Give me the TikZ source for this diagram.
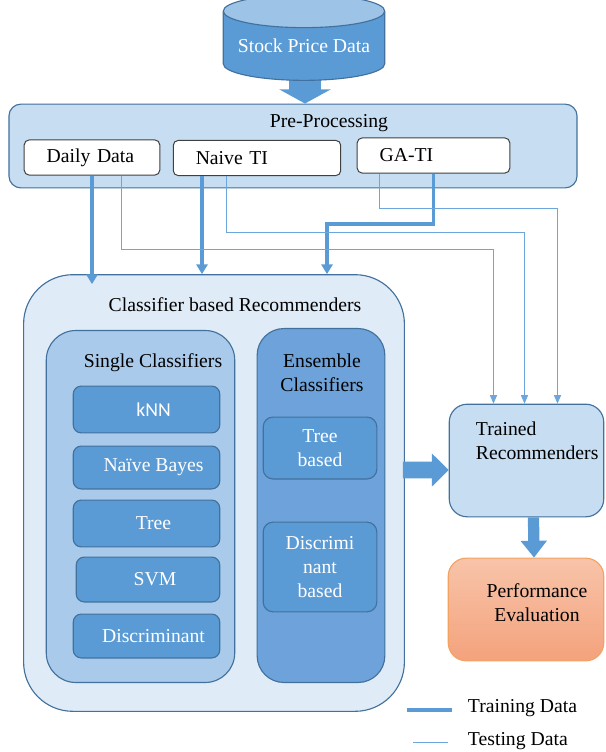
\documentclass[tikz,border=0pt]{standalone}
\usepackage{fontspec}
\setmainfont{Liberation Serif}
\newfontfamily\calibrifont{Carlito}
\usetikzlibrary{shapes.geometric,arrows.meta,calc}
\definecolor{bdr}{HTML}{41719C}
\definecolor{mblue}{HTML}{5B9BD5}
\definecolor{tblue}{HTML}{6CA6DC}
\definecolor{cyltop}{HTML}{9DC3E6}
\definecolor{ppfill}{HTML}{C7DDF1}
\definecolor{cbrfill}{HTML}{DFEBF7}
\definecolor{scfill}{HTML}{A9CAEA}
\definecolor{ecfill}{HTML}{6DA3DA}
\definecolor{petop}{HTML}{F8C4A9}
\definecolor{pebot}{HTML}{F4A27C}
\definecolor{peborder}{HTML}{F4A261}
\tikzset{
  panel/.style={draw=bdr, line width=0.8pt, rounded corners=#1, inner sep=0pt},
  tibox/.style={draw=black!75, fill=white, line width=0.7pt, rounded corners=3.5pt,
    inner xsep=16pt, inner ysep=0pt, minimum height=25pt, align=left},
  clsbox/.style={panel=5.7pt, fill=mblue, text=white, minimum width=104.2pt,
    execute at begin node=\hspace*{10pt}},
  trainline/.style={draw=mblue, line width=2.8pt, -{Triangle[width=8pt,length=7pt]}},
  testline/.style={draw=tblue, line width=0.6pt, -{Triangle[width=5pt,length=6pt]}},
  blockarr/.style={draw=mblue}
}
\begin{document}
\begin{tikzpicture}[x=0.025cm, y=-0.025cm, font=\fontsize{14}{17}\selectfont]
\useasboundingbox (0,0) rectangle (606,752);

% pre-processing
\node[panel=8.5pt, fill=ppfill, minimum width=404pt, minimum height=59.6pt] (PP) at (293,146) {};
\node (PPt) at (329,123) {Pre-Processing};
\node[tibox, text width=64.4pt] (DD) at (92,157.5) {Daily Data};
\node[tibox, text width=87.1pt] (NT) at (257,158) {Naive TI};
\node[tibox, text width=76.5pt] (GA) at (433.5,155.5) {GA-TI};

% data source
\coordinate (S0) at (305,60);
\draw[blockarr, line width=23pt, -{Triangle[width=36pt,length=10pt]}] (S0) -- (S0 |- PP.north);
\node[cylinder, shape border rotate=90, aspect=0.25, draw=bdr, line width=0.8pt,
  cylinder uses custom fill, cylinder body fill=mblue, cylinder end fill=cyltop,
  minimum width=114.9pt, minimum height=61pt, text=white, inner sep=0pt] (SPD) at (304,46) {Stock Price Data};

% classifiers
\node[panel=35pt, fill=cbrfill, minimum width=270.8pt, minimum height=310.5pt] (CBR) at (214,493) {};
\node (CBRt) at (235,305) {Classifier based Recommenders};
\node[panel=21pt, fill=scfill, minimum width=134pt, minimum height=250.3pt] (SC) at (140.5,506.5) {};
\node (SCt) at (153,363) {Single Classifiers};
\node[clsbox, minimum height=33.3pt] (KNN) at (146.5,409.5) {\calibrifont kNN};
\node[clsbox, minimum height=30.5pt] (NB) at (146.5,467.5) {Naïve Bayes};
\node[clsbox, minimum height=33.3pt] (TR) at (146.5,523.5) {Tree};
\node[clsbox, minimum width=102.1pt, minimum height=31.9pt] (SVM) at (148,579.5) {SVM};
\node[clsbox, minimum height=31.2pt] (DS) at (146.5,636) {Discriminant};
\node[panel=19pt, fill=ecfill, minimum width=90.8pt, minimum height=251.7pt] (EC) at (321,505.5) {};
\node[align=center] (ECt) at (322,372.5) {Ensemble\\Classifiers};
\node[panel=7pt, fill=mblue, text=white, align=center, minimum width=80.8pt, minimum height=44pt] (TB) at (320,448) {Tree\\based};
\node[panel=7pt, fill=mblue, text=white, align=center, minimum width=80.8pt, minimum height=63.8pt] (DB) at (320,567) {Discrimi\\nant\\based};

% results
\node[panel=12.8pt, fill=ppfill, minimum width=109.9pt, minimum height=80.1pt] (TRD) at (526.5,460.5) {};
\node[anchor=north west, align=left, inner sep=0pt] (TRDt) at ($(TRD.north west)+(27,18)$) {Trained\\Recommenders};
\node[draw=peborder, line width=0.8pt, rounded corners=12.8pt, top color=petop, bottom color=pebot,
  minimum width=110.6pt, minimum height=73pt] (PE) at (526,609.5) {};
\node[align=center] (PEt) at ($(PE.center)+(11,-7)$) {Performance\\Evaluation};
\draw[blockarr, line width=12pt, -{Triangle[width=23pt,length=12pt]}] ($(CBR.east)+(-2,-23)$) -- ($(TRD.west)+(0,9.5)$);
\draw[blockarr, line width=8pt, -{Triangle[width=18pt,length=12pt]}] ($(TRD.south)+(7,0)$) -- ($(PE.north)+(8,0)$);

% training data
\draw[trainline] (DD.south) -- ($(DD.south |- CBR.north)+(0,10)$);
\draw[trainline] ($(NT.south)+(-55,0)$) coordinate (n1) -- (n1 |- CBR.north);
\draw[trainline] (GA.south) -- ++(0,50) -| ($(CBR.north)+(113,0)$);
% testing data
\draw[testline] ($(DD.south)+(29,0)$) -- ++(0,74) -| ($(TRD.north)+(-33,0)$);
\draw[testline] ($(NT.south)+(-31,0)$) -- ++(0,56) -| ($(TRD.north)+(-2,0)$);
\draw[testline] ($(GA.south)+(-54.5,0)$) -- ++(0,35) -| ($(TRD.north)+(31,0)$);

% legend
\coordinate (L1) at (407,710);
\coordinate (L2) at (452,710);
\coordinate (L3) at (413,742);
\coordinate (L4) at (448,742);
\draw[draw=mblue, line width=3pt] (L1) -- (L2);
\draw[draw=tblue, line width=0.7pt] (L3) -- (L4);
\node[anchor=west] (Ltr) at (463,708) {Training Data};
\node[anchor=west] (Lte) at (463,741) {Testing Data};
\end{tikzpicture}
\end{document}
